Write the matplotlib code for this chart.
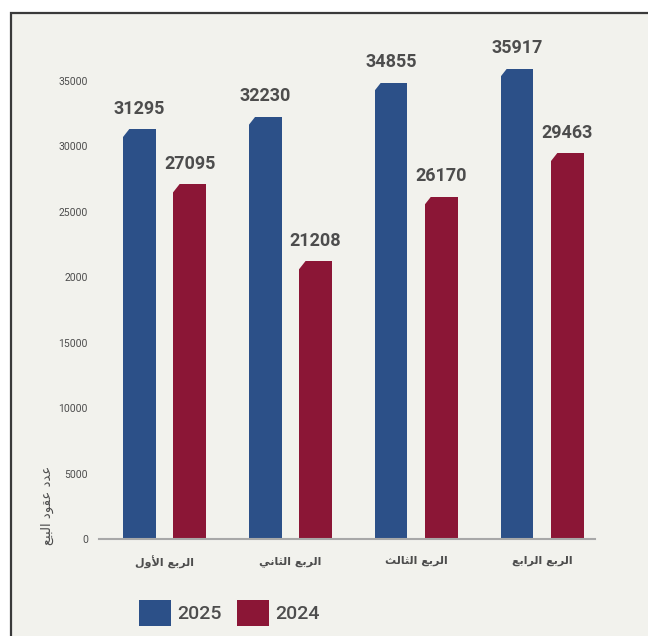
import matplotlib.pyplot as plt
import numpy as np
from matplotlib.patches import Rectangle, Polygon

# dados
trimestres = ["الربع الأول", "الربع الثاني", "الربع الثالث", "الربع الرابع"]
vendas_2025 = [31295, 32230, 34855, 35917]
vendas_2024 = [27095, 21208, 26170, 29463]
yticks_val = [0, 5000, 10000, 15000, 20000, 25000, 30000, 35000]
yticks_txt = ["0", "5000", "10000", "15000", "2000", "25000", "30000", "35000"]
ylabel_txt = "عدد عقود البيع"

# formas de apresentacao arabes (isolada, final, inicial, medial)
formas = {
    "ا": ("\uFE8D", "\uFE8E", None, None),
    "أ": ("\uFE83", "\uFE84", None, None),
    "ل": ("\uFEDD", "\uFEDE", "\uFEDF", "\uFEE0"),
    "ر": ("\uFEAD", "\uFEAE", None, None),
    "ب": ("\uFE8F", "\uFE90", "\uFE91", "\uFE92"),
    "ع": ("\uFEC9", "\uFECA", "\uFECB", "\uFECC"),
    "و": ("\uFEED", "\uFEEE", None, None),
    "ث": ("\uFE99", "\uFE9A", "\uFE9B", "\uFE9C"),
    "ن": ("\uFEE5", "\uFEE6", "\uFEE7", "\uFEE8"),
    "ي": ("\uFEF1", "\uFEF2", "\uFEF3", "\uFEF4"),
    "د": ("\uFEA9", "\uFEAA", None, None),
    "ق": ("\uFED5", "\uFED6", "\uFED7", "\uFED8"),
}
lam_alef = {"ا": ("\uFEFB", "\uFEFC"), "أ": ("\uFEF7", "\uFEF8")}


def liga_frente(c):
    return c in formas and formas[c][2] is not None


def arabe(texto):
    # matplotlib nao faz shaping nem bidi, entao monta a forma visual na mao
    palavras = []
    for w in texto.split(" "):
        out = []
        i = 0
        while i < len(w):
            c = w[i]
            prev = w[i - 1] if i > 0 else None
            antes = prev is not None and liga_frente(prev)
            if c == "ل" and i + 1 < len(w) and w[i + 1] in lam_alef:
                out.append(lam_alef[w[i + 1]][1 if antes else 0])
                i += 2
                continue
            nxt = w[i + 1] if i + 1 < len(w) else None
            depois = nxt is not None and liga_frente(c)
            iso, fin, ini, med = formas[c]
            if antes and depois:
                out.append(med)
            elif antes:
                out.append(fin)
            elif depois:
                out.append(ini)
            else:
                out.append(iso)
            i += 1
        palavras.append("".join(reversed(out)))
    return " ".join(reversed(palavras))


azul = "#2c5088"
vinho = "#8b1636"
cinza = "#4d4d4d"
fundo = "#f2f2ed"

fig = plt.figure(figsize=(6.48, 6.36), dpi=100)
fig.patch.set_facecolor("white")
fig.patches.append(Rectangle((11 / 648, -0.05), 1.2, 1 - 13 / 636 + 0.05,
                             transform=fig.transFigure, facecolor=fundo,
                             edgecolor="#3a3a3a", linewidth=1.6, zorder=-5))

ymax = 38000
ax = fig.add_axes([99 / 648, 1 - 539 / 636, 496 / 648, 458 / 636 * ymax / 35000])
ax.set_facecolor("none")

x = np.arange(len(trimestres))
largura = 0.26
b1 = ax.bar(x - 0.2, vendas_2025, largura, color=azul, label="2025", zorder=2)
b2 = ax.bar(x + 0.2, vendas_2024, largura, color=vinho, label="2024", zorder=2)

# canto superior esquerdo chanfrado
cx = largura * 0.2
cy = ymax * 0.017
for barras in [b1, b2]:
    for b in barras:
        x0, h = b.get_x(), b.get_height()
        ax.add_patch(Polygon([(x0 - 0.005, h + 50), (x0 + cx, h + 50), (x0 - 0.005, h - cy)],
                             closed=True, facecolor=fundo, edgecolor="none", zorder=3))

for barras, valores in [(b1, vendas_2025), (b2, vendas_2024)]:
    for b, v in zip(barras, valores):
        ax.annotate(str(v), (b.get_x() + b.get_width() / 2, v),
                    xytext=(0, 15), textcoords="offset points",
                    ha="center", va="center", fontsize=13, fontweight="bold",
                    color=cinza, family="Roboto", annotation_clip=False)

ax.set_xlim(-0.52, 3.42)
ax.set_ylim(0, ymax)
ax.set_yticks(yticks_val)
ax.set_yticklabels(yticks_txt, fontsize=7.5, color=cinza, family="Roboto")
ax.set_xticks(x)
ax.set_xticklabels([arabe(t) for t in trimestres], fontsize=8,
                   fontweight="bold", color=cinza, family="DejaVu Sans")
ax.tick_params(length=0, axis="y", pad=8)
ax.tick_params(length=0, axis="x", pad=12)
for s in ["top", "right", "left"]:
    ax.spines[s].set_visible(False)
ax.spines["bottom"].set_color("#a8a8a8")
ax.spines["bottom"].set_linewidth(1.5)

fig.text(47 / 648, 1 - 505 / 636, arabe(ylabel_txt), rotation=90,
         ha="center", va="center", fontsize=9.5, color=cinza,
         family="DejaVu Sans")

fig.legend(handles=[b1, b2], labels=["2025", "2024"], ncol=2,
           loc="center left", bbox_to_anchor=(139 / 648, 1 - 613 / 636),
           frameon=False, prop={"family": "Roboto", "size": 14, "weight": "medium"},
           handlelength=1.65, handleheight=1.65, handletextpad=0.3,
           columnspacing=0.8, borderpad=0, borderaxespad=0,
           labelcolor=cinza)

fig.savefig("out.png", dpi=100)
